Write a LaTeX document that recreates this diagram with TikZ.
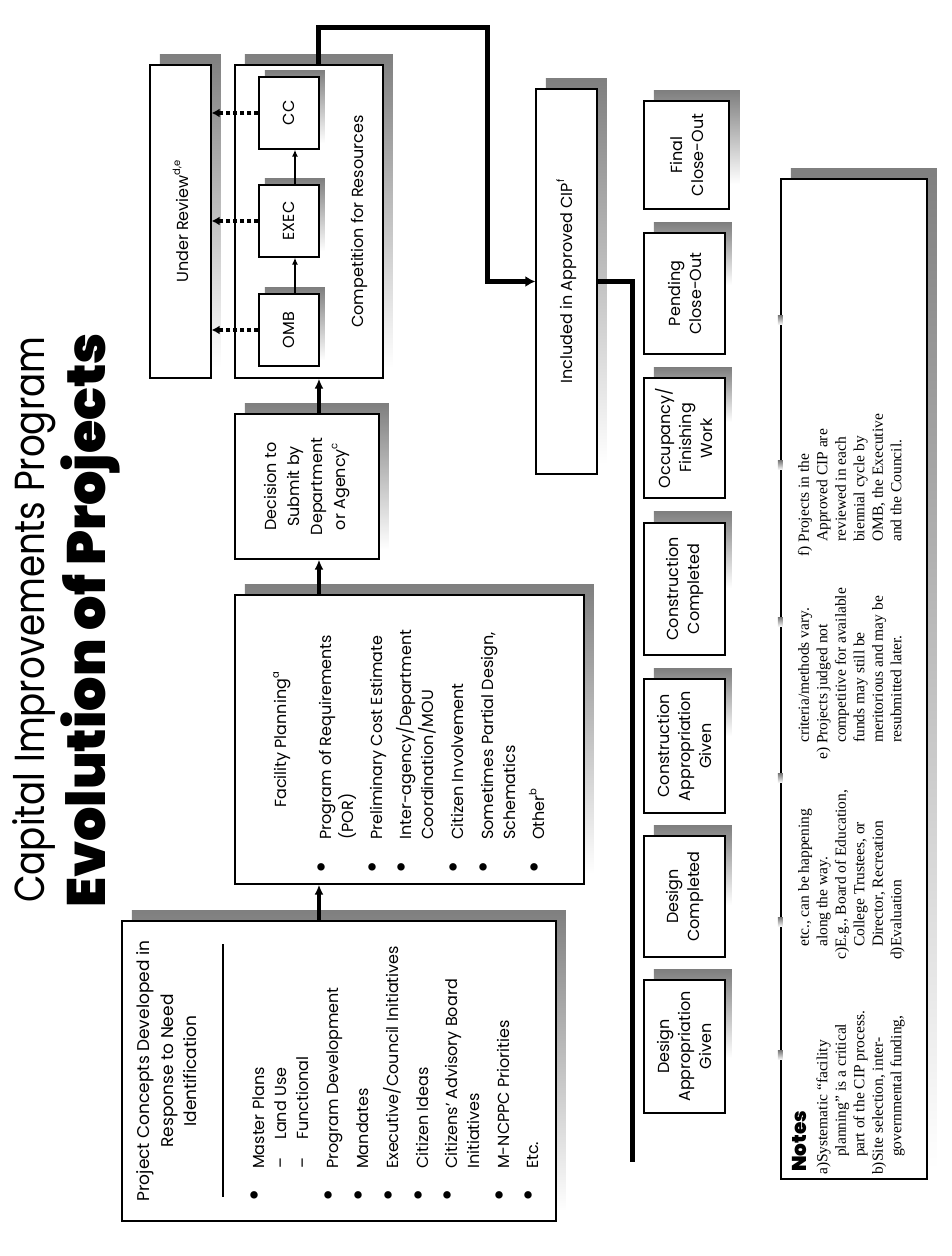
\documentclass[tikz,border=0pt]{standalone}
\usepackage{fontspec}
\setmainfont{Poppins}
\newfontfamily\titlefont{Poppins}[FakeStretch=0.85]
\newfontfamily\notesfont{Liberation Serif}
\IfFontExistsTF{Poppins Black}{\newfontfamily\heavyfont{Poppins Black}}{%
  \IfFontExistsTF{Poppins ExtraBold}{\newfontfamily\heavyfont{Poppins ExtraBold}}{\newfontfamily\heavyfont{Poppins}[FakeBold=3]}}
\usetikzlibrary{arrows.meta}
\definecolor{shade}{gray}{0.5}
\newcommand\sups[1]{\raisebox{0.5em}{\fontsize{10}{10}\selectfont #1}}
\newcommand\bodyf{\fontsize{16}{22}\selectfont}
\newcommand\colf{\fontsize{16}{21}\selectfont}
\newcommand\pctitlef{\fontsize{17}{23.5}\selectfont}
\newcommand\notef{\notesfont\fontsize{15.5}{18.5}\selectfont}
\tikzset{
  box/.style={draw=black, line width=1.3pt, fill=white, inner sep=0pt, align=center, font=\bodyf},
  colbox/.style={box, font=\colf, minimum height=81pt},
  txt/.style={inner sep=0pt, font=\bodyf, anchor=base west},
  bul/.style={inner sep=0pt, font=\fontsize{30}{30}\selectfont},
  ntxt/.style={inner sep=0pt, font=\notef, anchor=base west},
  flow/.style={line width=4pt, -{Latex[length=10pt,width=9pt]}},
  bus/.style={line width=5pt},
  inarrow/.style={line width=1.5pt, -{Latex[length=7pt,width=6pt]}},
  dotarrow/.style={line width=3.5pt, dash pattern=on 4pt off 3pt, -{Latex[length=8pt,width=9pt]}},
}
\begin{document}
\begin{tikzpicture}[x=1pt,y=1pt,rotate=90,transform shape,line join=miter]
\useasboundingbox (0,0) rectangle (1256,951);
% ---------- shadows
\fill[shade] (45,385) rectangle (345,819);
\fill[shade] (382,357) rectangle (671,706);
\fill[shade] (707,562) rectangle (852,706);
\fill[shade] (888,558) rectangle (1201,706);
\fill[shade] (888,730) rectangle (1201,791);
\fill[shade] (792,344) rectangle (1177,405);
\fill[shade] (198,219) rectangle (286,297);
\fill[shade] (351,219) rectangle (430,297);
\fill[shade] (520,219) rectangle (587,297);
\fill[shade] (668,219) rectangle (744,297);
\fill[shade] (834,219) rectangle (888,297);
\fill[shade] (971,219) rectangle (1033,297);
\fill[shade] (1072,211) rectangle (1165,297);
\fill[shade] (87,14) rectangle (1087,160);
% ---------- titles
\node[inner sep=0pt, anchor=base west, font=\titlefont\fontsize{42}{42}\selectfont] (t1) at (353,906) {Capital Improvements Program};
\node[inner sep=0pt, anchor=base west, font=\heavyfont\fontsize{54}{54}\selectfont] (t2) at (348,845) {Evolution of Projects};
% ---------- main boxes
\node[box, minimum width=300pt, minimum height=434pt] (pc) at (185,612) {};
\node[box, minimum width=289pt, minimum height=349pt] (fp) at (516.5,541.5) {};
\node[box, minimum width=145pt, minimum height=144pt, font=\fontsize{16}{23}\selectfont] (ds) at (769.5,644) {Decision to\\Submit by\\Department\\or Agency\sups{c}};
\node[box, minimum width=313pt, minimum height=148pt] (cr) at (1034.5,642) {};
\node[box, minimum width=313pt, minimum height=61pt] (ur) at (1034.5,770.5) {Under Review\sups{d,e}};
\fill[shade] (1113,626) rectangle (1185,686);
\fill[shade] (1005,626) rectangle (1077,686);
\fill[shade] (896,626) rectangle (968,686);
\node[box, minimum width=72pt, minimum height=60pt] (cc) at (1143,662) {CC};
\node[box, minimum width=72pt, minimum height=60pt] (exec) at (1035,662) {EXEC};
\node[box, minimum width=72pt, minimum height=60pt] (omb) at (926,662) {OMB};
\node[txt, anchor=base] (crt) at (1034.5,587) {Competition for Resources};
\node[box, minimum width=385pt, minimum height=61pt] (ic) at (974.5,384.5) {Included in Approved CIP\sups{f}};
% ---------- stage column
\node[colbox, minimum width=133pt] (dag) at (209.5,266.5) {Design\\Appropriation\\Given};
\node[colbox, minimum width=121pt] (dc) at (359.5,266.5) {Design\\Completed};
\node[colbox, minimum width=134pt] (cag) at (510,266.5) {Construction\\Appropriation\\Given};
\node[colbox, minimum width=132pt] (ccp) at (667,266.5) {Construction\\Completed};
\node[colbox, minimum width=120pt] (ofw) at (818,266.5) {Occupancy/\\Finishing\\Work};
\node[colbox, minimum width=121pt] (pco) at (962.5,266.5) {Pending\\Close-Out};
\node[colbox, minimum width=108pt, minimum height=85pt] (fco) at (1101,264.5) {Final\\Close-Out};
% ---------- project concepts content
\node[inner sep=0pt, anchor=base, font=\pctitlef] (pct1) at (185,801) {Project Concepts Developed in};
\node[inner sep=0pt, anchor=base, font=\pctitlef] (pct2) at (185,777.5) {Response to Need};
\node[inner sep=0pt, anchor=base, font=\pctitlef] (pct3) at (185,754) {Identification};
\coordinate (sepa) at (59,728);
\coordinate (sepb) at (312,728);
\draw[line width=2.5pt] (sepa) -- (sepb);
\node[bul] (pb1) at (61,693) {•};
\node[bul] (pb2) at (61,619) {•};
\node[bul] (pb3) at (61,589) {•};
\node[bul] (pb4) at (61,559) {•};
\node[bul] (pb5) at (61,529) {•};
\node[bul] (pb6) at (61,500) {•};
\node[bul] (pb7) at (61,448) {•};
\node[bul] (pb8) at (61,419) {•};
\node[txt] (pi1) at (87,686.5) {Master Plans};
\node[txt] (pd1) at (87,664.5) {–};
\node[txt] (pi1a) at (116,664.5) {Land Use};
\node[txt] (pd2) at (87,642.5) {–};
\node[txt] (pi1b) at (116,642.5) {Functional};
\node[txt] (pi2) at (87,612.5) {Program Development};
\node[txt] (pi3) at (87,582.5) {Mandates};
\node[txt] (pi4) at (87,552.5) {Executive/Council Initiatives};
\node[txt] (pi5) at (87,522.5) {Citizen Ideas};
\node[txt] (pi6) at (87,493.5) {Citizens' Advisory Board};
\node[txt] (pi6b) at (87,471.5) {Initiatives};
\node[txt] (pi7) at (87,441.5) {M-NCPPC Priorities};
\node[txt] (pi8) at (87,412.5) {Etc.};
% ---------- facility planning content
\node[txt, anchor=base] (fpt) at (516,664) {Facility Planning\sups{a}};
\node[bul] (fb1) at (389,626) {•};
\node[bul] (fb2) at (389,575) {•};
\node[bul] (fb3) at (389,546) {•};
\node[bul] (fb4) at (389,494) {•};
\node[bul] (fb5) at (389,464) {•};
\node[bul] (fb6) at (389,413) {•};
\node[txt] (fi1) at (416,619.5) {Program of Requirements};
\node[txt] (fi1b) at (416,597.5) {(POR)};
\node[txt] (fi2) at (416,568.5) {Preliminary Cost Estimate};
\node[txt] (fi3) at (416,539.5) {Inter-agency/Department};
\node[txt] (fi3b) at (416,517.5) {Coordination/MOU};
\node[txt] (fi4) at (416,487.5) {Citizen Involvement};
\node[txt] (fi5) at (416,457.5) {Sometimes Partial Design,};
\node[txt] (fi5b) at (416,435.5) {Schematics};
\node[txt] (fi6) at (416,406.5) {Other\sups{b}};
% ---------- notes
\node[draw=black, line width=1.3pt, fill=white, minimum width=1000pt, minimum height=146pt, inner sep=0pt] (notes) at (577,97) {};
\foreach \u in {931,786,629,473,329,196}{\fill[shade] (\u,168) rectangle ++(9,5);}
\node[inner sep=0pt, anchor=base west, font=\heavyfont\fontsize{20}{20}\selectfont] (nh) at (84,144) {Notes};
\node[ntxt] (na1) at (81,123.5) {a)Systematic “facility};
\node[ntxt] (na2) at (99,105) {planning” is a critical};
\node[ntxt] (na3) at (99,86.5) {part of the CIP process.};
\node[ntxt] (nb1) at (81,68) {b)Site selection, inter-};
\node[ntxt] (nb2) at (99,49.5) {governmental funding,};
\node[ntxt] (nb3) at (309,142) {etc., can be happening};
\node[ntxt] (nb4) at (309,123.5) {along the way.};
\node[ntxt] (nc1) at (296,105) {c)E.g., Board of Education,};
\node[ntxt] (nc2) at (309,86.5) {College Trustees, or};
\node[ntxt] (nc3) at (309,68) {Director, Recreation};
\node[ntxt] (nd1) at (296,49.5) {d)Evaluation};
\node[ntxt] (nd2) at (513,142) {criteria/methods vary.};
\node[ntxt] (ne1) at (496,123.5) {e) Projects judged not};
\node[ntxt] (ne2) at (513,105) {competitive for available};
\node[ntxt] (ne3) at (513,86.5) {funds may still be};
\node[ntxt] (ne4) at (513,68) {meritorious and may be};
\node[ntxt] (ne5) at (513,49.5) {resubmitted later.};
\node[ntxt] (nf1) at (699,142) {f) Projects in the};
\node[ntxt] (nf2) at (714,123.5) {Approved CIP are};
\node[ntxt] (nf3) at (714,105) {reviewed in each};
\node[ntxt] (nf4) at (714,86.5) {biennial cycle by};
\node[ntxt] (nf5) at (714,68) {OMB, the Executive};
\node[ntxt] (nf6) at (714,49.5) {and the Council.};
% ---------- connectors
\coordinate (row) at (0,632);
\draw[flow] (pc.east |- row) -- (fp.west |- row);
\draw[flow] (fp.east |- row) -- (ds.west |- row);
\draw[flow] (ds.east |- row) -- (cr.west |- row);
\coordinate (irow) at (0,656);
\draw[inarrow] (omb.east |- irow) -- (exec.west |- irow);
\draw[inarrow] (exec.east |- irow) -- (cc.west |- irow);
\draw[dotarrow] (omb.north) -- (omb.north |- ur.south);
\draw[dotarrow] (exec.north) -- (exec.north |- ur.south);
\draw[dotarrow] (cc.north) -- (cc.north |- ur.south);
\coordinate (tc1) at (1228,632);
\coordinate (tc2) at (1228,463);
\draw[bus, -{Latex[length=10pt,width=11pt]}] (cr.east |- row) -- (tc1) -- (tc2) -| (ic.north);
\coordinate (busend) at (94,318.5);
\draw[bus] (ic.south) |- (busend);
\end{tikzpicture}
\end{document}
